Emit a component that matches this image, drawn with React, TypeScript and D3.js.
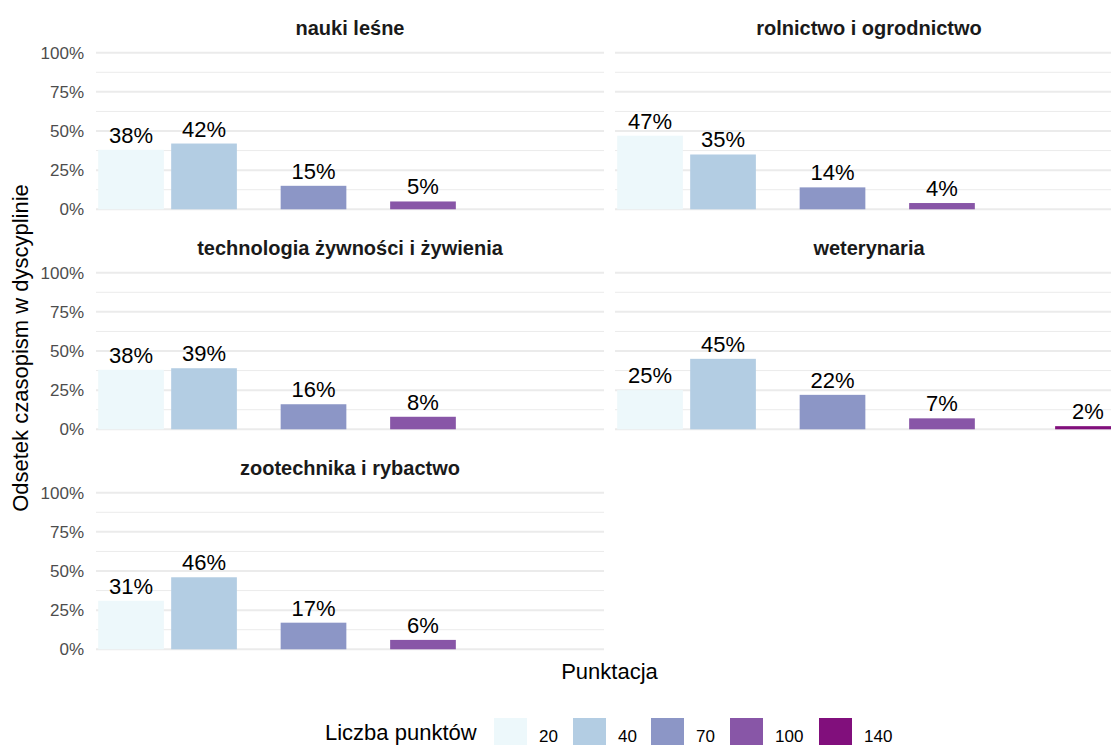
import * as d3 from "d3";

// facets, in the order they are drawn (row by row, two columns)
const disciplines = [
  "nauki leśne",
  "rolnictwo i ogrodnictwo",
  "technologia żywności i żywienia",
  "weterynaria",
  "zootechnika i rybactwo",
];

// points categories (x) and their colours (BuPu)
const points = [20, 40, 70, 100, 140];
const pointColors = ["#edf8fb", "#b3cde3", "#8c96c6", "#8856a7", "#810f7c"];

// share of journals (%) for each points category, per discipline
const naukiLesne = [38, 42, 15, 5, null];
const rolnictwo = [47, 35, 14, 4, null];
const technologia = [38, 39, 16, 8, null];
const weterynaria = [25, 45, 22, 7, 2];
const zootechnika = [31, 46, 17, 6, null];

const seriesByDiscipline = [naukiLesne, rolnictwo, technologia, weterynaria, zootechnika];

const yTicks = [0, 0.25, 0.5, 0.75, 1];
const yMinor = [0.125, 0.375, 0.625, 0.875];

const WIDTH = 1111;
const HEIGHT = 745;
const FONT = "'Liberation Sans', Arial, Helvetica, sans-serif";

// panel geometry (the original plot is a bit wider than the picture, so the
// right column runs off the edge)
const PANEL_LEFT = [96, 615];
const PANEL_W = 508;
const ZERO_Y = [209.3, 429.3, 649.3];
const UNIT_H = 156.6; // pixels for 100%
const BAR_W = 18; // in points units

const xScale = d3.scaleLinear().domain([10.4, 149.6]).range([0, PANEL_W]);

const Panel = ({ name, values, col, row }) => {
  const left = PANEL_LEFT[col];
  const zero = ZERO_Y[row];
  const yScale = d3.scaleLinear().domain([0, 1]).range([zero, zero - UNIT_H]);

  return (
    <g>
      {/* strip */}
      <text
        x={left + PANEL_W / 2}
        y={zero - 174.3}
        textAnchor="middle"
        fontWeight="bold"
        fontSize={20}
        fill="#1a1a1a"
      >
        {name}
      </text>

      {/* grid */}
      {yMinor.map((t) => (
        <line
          key={"m" + t}
          x1={left}
          x2={left + PANEL_W}
          y1={yScale(t)}
          y2={yScale(t)}
          stroke="#ebebeb"
          strokeWidth={1}
        />
      ))}
      {yTicks.map((t) => (
        <line
          key={"M" + t}
          x1={left}
          x2={left + PANEL_W}
          y1={yScale(t)}
          y2={yScale(t)}
          stroke="#ebebeb"
          strokeWidth={2}
        />
      ))}

      {/* y tick labels, only on the left column */}
      {col === 0 &&
        yTicks.map((t) => (
          <text
            key={"t" + t}
            x={84}
            y={yScale(t)}
            dy="0.35em"
            textAnchor="end"
            fontSize={17}
            fill="#4d4d4d"
          >
            {d3.format(".0%")(t)}
          </text>
        ))}

      {/* bars */}
      {values.map((v, i) => {
        if (v == null) return null;
        const p = points[i];
        const x0 = left + xScale(p - BAR_W / 2);
        const x1 = left + xScale(p + BAR_W / 2);
        const yTop = yScale(v / 100);
        return (
          <g key={p}>
            <rect
              x={x0}
              y={yTop}
              width={x1 - x0}
              height={zero - yTop}
              fill={pointColors[i]}
            />
            <text
              x={(x0 + x1) / 2}
              y={yTop - 7}
              textAnchor="middle"
              fontSize={22}
              fill="#000"
            >
              {v}%
            </text>
          </g>
        );
      })}
    </g>
  );
};

const Legend = () => {
  const keyX = [494, 573, 651, 730, 819];
  return (
    <g>
      <text x={325} y={740} fontSize={22} fill="#000">
        Liczba punktów
      </text>
      {points.map((p, i) => (
        <g key={p}>
          <rect x={keyX[i]} y={718} width={33} height={33} fill={pointColors[i]} />
          <text x={keyX[i] + 45} y={742} fontSize={17} fill="#000">
            {p}
          </text>
        </g>
      ))}
    </g>
  );
};

export default function App() {
  const panelsCenter = (PANEL_LEFT[0] + PANEL_LEFT[1] + PANEL_W) / 2;
  return (
    <svg
      width={WIDTH}
      height={HEIGHT}
      style={{ position: "absolute", left: 0, top: 0, background: "#fff" }}
      fontFamily={FONT}
    >
      <rect width={WIDTH} height={HEIGHT} fill="#fff" />
      {disciplines.map((d, i) => (
        <Panel
          key={d}
          name={d}
          values={seriesByDiscipline[i]}
          col={i % 2}
          row={Math.floor(i / 2)}
        />
      ))}

      {/* axis titles */}
      <text
        transform={`translate(28,348) rotate(-90)`}
        textAnchor="middle"
        fontSize={22}
        fill="#000"
      >
        Odsetek czasopism w dyscyplinie
      </text>
      <text x={panelsCenter} y={679} textAnchor="middle" fontSize={22} fill="#000">
        Punktacja
      </text>

      <Legend />
    </svg>
  );
}
